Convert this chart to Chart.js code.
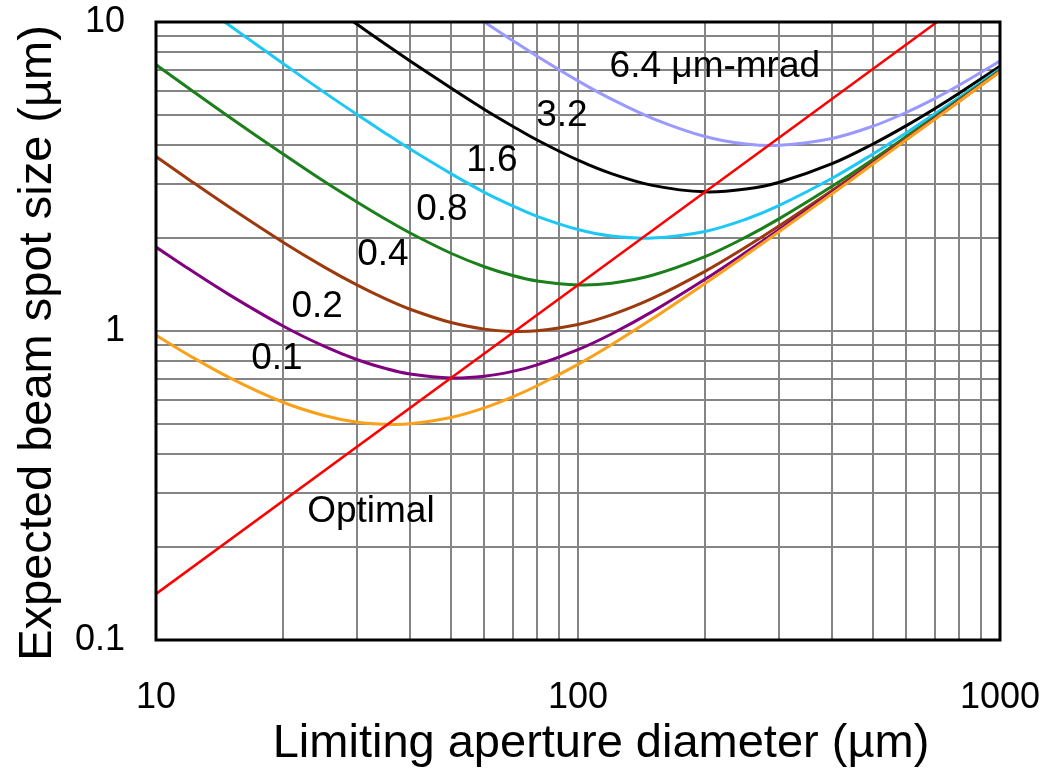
<!DOCTYPE html>
<html>
<head>
<meta charset="utf-8">
<title>Beam spot size vs limiting aperture</title>
<script src="https://cdn.jsdelivr.net/npm/chart.js"></script>
<style>
  html, body { margin: 0; padding: 0; background: #fff; }
  #wrap { width: 1050px; height: 782px; }
</style>
</head>
<body>
<div id="wrap"><canvas id="spotChart"></canvas></div>
<script>
// Limiting aperture diameter (um), shared by every curve
const apertures = [10, 12, 15, 20, 25, 30, 35, 40, 50, 60, 70, 80, 100, 120, 150, 200, 250, 300, 400, 500, 600, 700, 800, 1000];

// Expected spot size (um) per emittance (um-mrad)
const spot01 = [0.969, 0.833, 0.704, 0.588, 0.533, 0.507, 0.499, 0.501, 0.525, 0.564, 0.612, 0.665, 0.780, 0.903, 1.095, 1.425, 1.761, 2.100, 2.78, 3.47, 4.16, 4.84, 5.53, 6.91];
const spot02 = [1.869, 1.583, 1.304, 1.038, 0.893, 0.807, 0.756, 0.726, 0.705, 0.714, 0.740, 0.777, 0.870, 0.978, 1.155, 1.470, 1.797, 2.130, 2.81, 3.49, 4.17, 4.86, 5.54, 6.92];
const spot04 = [3.669, 3.083, 2.504, 1.938, 1.613, 1.407, 1.270, 1.176, 1.065, 1.014, 0.997, 1.002, 1.050, 1.128, 1.275, 1.560, 1.869, 2.190, 2.85, 3.52, 4.20, 4.88, 5.57, 6.94];
const spot08 = [7.27, 6.08, 4.90, 3.74, 3.05, 2.61, 2.30, 2.076, 1.785, 1.614, 1.512, 1.452, 1.410, 1.428, 1.515, 1.740, 2.013, 2.310, 2.94, 3.59, 4.26, 4.93, 5.61, 6.97];
const spot16 = [14.5, 12.1, 9.70, 7.34, 5.93, 5.01, 4.36, 3.88, 3.23, 2.81, 2.54, 2.35, 2.13, 2.03, 2.00, 2.10, 2.30, 2.55, 3.12, 3.74, 4.38, 5.04, 5.70, 7.04];
const spot32 = [null, null, null, null, 11.7, 9.81, 8.47, 7.48, 6.11, 5.21, 4.60, 4.15, 3.57, 3.23, 2.96, 2.82, 2.88, 3.03, 3.48, 4.03, 4.62, 5.24, 5.88, 7.19];
const spot64 = [null, null, null, null, null, null, null, null, 11.9, 10.0, 8.71, 7.75, 6.45, 5.63, 4.88, 4.26, 4.03, 3.99, 4.20, 4.60, 5.10, 5.65, 6.24, 7.48];

// Optimal aperture line
const optimalX = [10, 100, 1000];
const optimalY = [0.141, 1.41, 14.1];

// Grid / tick values
const xGridValues = [10, 20, 30, 40, 50, 60, 70, 80, 90, 100, 200, 300, 400, 500, 600, 700, 800, 900, 1000];
const yGridValues = [0.1, 0.2, 0.3, 0.4, 0.5, 0.6, 0.7, 0.8, 0.9, 1, 2, 3, 4, 5, 6, 7, 8, 9, 10];
const xTickLabels = [10, 100, 1000];
const yTickLabels = [0.1, 1, 10];

// Curve labels, placed in data units
const curveLabels = [
    { text: '6.4 \u03bcm-mrad', x: 211, y: 7.18 },
    { text: '3.2', x: 91.6, y: 4.98 },
    { text: '1.6', x: 62.5, y: 3.56 },
    { text: '0.8', x: 47.6, y: 2.47 },
    { text: '0.4', x: 34.5, y: 1.77 },
    { text: '0.2', x: 24.1, y: 1.196 },
    { text: '0.1', x: 19.35, y: 0.812 },
    { text: 'Optimal', x: 32.3, y: 0.259 }
];

const xTitle = 'Limiting aperture diameter (\u00b5m)';
const yTitle = 'Expected beam spot size (\u00b5m)';

const FONT = '"Liberation Sans", Arial, sans-serif';

function toPoints(xs, ys) {
    return xs.map((x, i) => ({ x: x, y: ys[i] }));
}

function curve(label, values, color) {
    return {
        label: label,
        data: toPoints(apertures, values),
        borderColor: color,
        borderWidth: 3,
        pointRadius: 0,
        tension: 0.35,
        spanGaps: false,
        fill: false
    };
}

// Frame around the plot, axis titles and curve labels
const framePlugin = {
    id: 'frame',
    afterDatasetsDraw(chart) {
        const { ctx, chartArea, scales } = chart;
        ctx.save();
        ctx.fillStyle = '#000';
        ctx.font = '37px ' + FONT;
        ctx.textAlign = 'center';
        ctx.textBaseline = 'middle';
        curveLabels.forEach(l => {
            ctx.fillText(l.text, scales.x.getPixelForValue(l.x), scales.y.getPixelForValue(l.y));
        });

        ctx.strokeStyle = '#000';
        ctx.lineWidth = 3;
        ctx.strokeRect(chartArea.left, chartArea.top, chartArea.right - chartArea.left, chartArea.bottom - chartArea.top);

        // axis titles (the reference sets them a little off-centre)
        ctx.font = '47px ' + FONT;
        const midX = (chartArea.left + chartArea.right) / 2;
        const midY = (chartArea.top + chartArea.bottom) / 2;
        ctx.fillText(xTitle, midX + 23, chartArea.bottom + 104);
        ctx.translate(38, midY + 12);
        ctx.rotate(-Math.PI / 2);
        ctx.fillText(yTitle, 0, 0);
        ctx.restore();
    }
};

function initSpotChart() {
    const ctx = document.getElementById('spotChart').getContext('2d');

    return new Chart(ctx, {
        type: 'line',
        data: {
            datasets: [
                {
                    label: 'Optimal',
                    data: toPoints(optimalX, optimalY),
                    borderColor: '#ff0000',
                    borderWidth: 2.5,
                    pointRadius: 0,
                    fill: false
                },
                curve('0.1', spot01, '#f9a11b'),
                curve('0.2', spot02, '#800080'),
                curve('0.4', spot04, '#9c3a0e'),
                curve('0.8', spot08, '#1b7f1b'),
                curve('1.6', spot16, '#1ec8f5'),
                curve('3.2', spot32, '#000000'),
                curve('6.4', spot64, '#9999ff')
            ]
        },
        options: {
            responsive: true,
            maintainAspectRatio: false,
            animation: false,
            layout: {
                padding: 0
            },
            scales: {
                x: {
                    type: 'logarithmic',
                    min: 10,
                    max: 1000,
                    afterBuildTicks: axis => {
                        axis.ticks = xGridValues.map(v => ({ value: v }));
                    },
                    afterFit: axis => {
                        axis.height = 142;
                        axis.paddingLeft = 0;
                        axis.paddingRight = 50;
                    },
                    grid: {
                        color: '#858585',
                        lineWidth: 2,
                        drawTicks: false
                    },
                    border: { display: false },
                    ticks: {
                        autoSkip: false,
                        maxRotation: 0,
                        padding: 36,
                        color: '#000',
                        font: { family: FONT, size: 36 },
                        callback: value => xTickLabels.includes(value) ? String(value) : ''
                    }
                },
                y: {
                    type: 'logarithmic',
                    min: 0.1,
                    max: 10,
                    afterBuildTicks: axis => {
                        axis.ticks = yGridValues.map(v => ({ value: v }));
                    },
                    afterFit: axis => {
                        axis.width = 156;
                        axis.paddingTop = 22;
                        axis.paddingBottom = 0;
                    },
                    grid: {
                        color: '#858585',
                        lineWidth: 2,
                        drawTicks: false
                    },
                    border: { display: false },
                    ticks: {
                        autoSkip: false,
                        padding: 31,
                        color: '#000',
                        font: { family: FONT, size: 36 },
                        callback: value => yTickLabels.includes(value) ? String(value) : ''
                    }
                }
            },
            plugins: {
                legend: { display: false },
                tooltip: { enabled: false }
            }
        },
        plugins: [framePlugin]
    });
}

document.addEventListener('DOMContentLoaded', () => {
    initSpotChart();
});
</script>
</body>
</html>
